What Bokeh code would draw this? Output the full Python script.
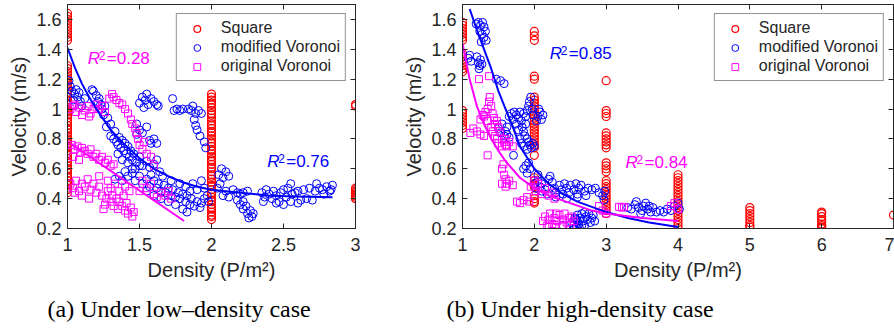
from bokeh.plotting import figure
from bokeh.models import Range1d, FixedTicker, LinearAxis, Label, Title
from bokeh.layouts import row
from bokeh.embed import file_html
from bokeh.resources import INLINE

# ---------------- data: panel (a) low density ----------------
sq_a_cols = {
    1: [0.44, 0.46, 0.47, 0.49, 0.50, 0.52, 0.54, 0.55, 0.57, 0.59, 0.60, 0.62, 0.64, 0.65, 0.67,
        0.69, 0.70, 0.72, 0.74, 0.75, 0.77, 0.79, 0.80, 0.82, 0.84, 0.86, 0.87, 0.89, 0.91, 0.92,
        0.94, 0.96, 0.98, 0.99, 1.01, 1.03, 1.04, 1.06, 1.08, 1.10, 1.11, 1.13, 1.15, 1.17, 1.19,
        1.21, 1.23, 1.25, 1.27, 1.29, 1.46, 1.48, 1.50, 1.52, 1.54, 1.56, 1.58, 1.60, 1.62, 1.64],
    2: [0.26, 0.28, 0.29, 0.31, 0.33, 0.34, 0.36, 0.38, 0.39, 0.41, 0.43, 0.44, 0.46, 0.48, 0.49,
        0.51, 0.53, 0.55, 0.56, 0.58, 0.60, 0.61, 0.63, 0.65, 0.66, 0.68, 0.70, 0.72, 0.73, 0.75,
        0.77, 0.78, 0.80, 0.82, 0.84, 0.85, 0.87, 0.89, 0.90, 0.92, 0.94, 0.96, 0.97, 0.99, 1.01,
        1.03, 1.04, 1.06, 1.08, 1.10],
    3: [1.02, 1.03, 0.40, 0.41, 0.42, 0.43, 0.44, 0.45, 0.46, 0.47],
}

mv_a_x = [1.01, 1.02, 1.03, 1.05, 1.06, 1.07, 1.08, 1.09, 1.04, 1.10, 1.12,
          1.17, 1.18, 1.20, 1.21, 1.22, 1.23, 1.24, 1.26, 1.25, 1.28, 1.30, 1.27, 1.33, 1.30,
          1.32, 1.34, 1.35, 1.36, 1.37, 1.38, 1.39, 1.40, 1.41, 1.42, 1.43, 1.44, 1.45, 1.46,
          1.48, 1.50, 1.52, 1.47, 1.35, 1.38, 1.55, 1.57, 1.60, 1.62, 1.64, 1.42,
          1.50, 1.52, 1.54, 1.55, 1.56, 1.58, 1.60, 1.62, 1.63, 1.53,
          1.48, 1.50, 1.52, 1.55, 1.58, 1.57, 1.48, 1.60, 1.62,
          1.73, 1.74, 1.76, 1.78, 1.80, 1.84, 1.86, 1.87, 1.89, 1.91, 1.88, 1.89, 1.90, 1.92,
          1.95, 1.96, 1.93,
          1.40, 1.42, 1.45, 1.47, 1.50, 1.52, 1.55, 1.57, 1.60, 1.62, 1.63, 1.65, 1.67, 1.68,
          1.70, 1.72, 1.73, 1.75, 1.77, 1.78, 1.80, 1.82, 1.83, 1.85, 1.86, 1.88, 1.90, 1.92,
          1.93, 1.95, 1.97, 1.98, 1.85, 1.90, 1.95, 1.87, 1.93, 1.45, 1.50, 1.58, 1.66, 1.72,
          1.78, 1.82, 1.60, 1.65, 1.70, 1.75, 1.80, 1.83, 1.55, 1.36, 1.33, 1.38,
          2.05, 2.07, 2.08, 2.10, 2.12, 2.06, 2.04, 2.10, 2.15, 2.18, 2.20, 2.22, 2.25, 2.08,
          2.12, 2.18, 2.20, 2.22, 2.24, 2.25, 2.27, 2.28, 2.29, 2.26, 2.22,
          2.35, 2.37, 2.38, 2.40, 2.42, 2.43, 2.45, 2.47, 2.48, 2.50, 2.52, 2.53, 2.55, 2.56,
          2.58, 2.60, 2.62, 2.64, 2.66, 2.68, 2.70, 2.72, 2.73, 2.75, 2.77, 2.78, 2.80, 2.82,
          2.84, 2.83, 2.45, 2.50, 2.55, 2.36, 2.60]
mv_a_y = [1.19, 1.15, 1.12, 1.10, 1.13, 1.08, 1.11, 1.05, 1.06, 1.02, 1.07,
          1.13, 1.12, 1.09, 1.05, 1.07, 1.03, 1.00, 1.02, 0.96, 0.94, 0.90, 0.88, 0.85, 0.82,
          0.80, 0.78, 0.76, 0.81, 0.74, 0.79, 0.72, 0.77, 0.70, 0.75, 0.68, 0.72, 0.66, 0.70,
          0.64, 0.68, 0.62, 0.60, 0.70, 0.66, 0.65, 0.61, 0.63, 0.66, 0.58, 0.64,
          1.04, 1.08, 1.06, 1.10, 1.03, 1.07, 1.05, 1.03, 1.02, 1.01,
          0.90, 0.86, 0.84, 0.88, 0.77, 0.79, 0.83, 0.80, 0.77,
          1.07, 0.99, 1.00, 0.99, 1.00, 1.00, 0.99, 1.02, 0.97, 0.99, 0.93, 0.89, 0.86, 0.82,
          0.78, 0.74, 0.97,
          0.58, 0.55, 0.57, 0.52, 0.55, 0.50, 0.53, 0.48, 0.52, 0.47, 0.50, 0.45, 0.49, 0.44,
          0.47, 0.42, 0.46, 0.41, 0.44, 0.40, 0.43, 0.38, 0.42, 0.36, 0.40, 0.35, 0.38, 0.34,
          0.37, 0.40, 0.42, 0.38, 0.45, 0.46, 0.47, 0.50, 0.52, 0.60, 0.62, 0.56, 0.55, 0.52,
          0.50, 0.48, 0.42, 0.40, 0.38, 0.36, 0.33, 0.31, 0.45, 0.55, 0.53, 0.52,
          0.56, 0.60, 0.54, 0.58, 0.55, 0.50, 0.47, 0.45, 0.46, 0.44, 0.43, 0.44, 0.45, 0.42,
          0.41, 0.39, 0.36, 0.33, 0.35, 0.30, 0.32, 0.28, 0.30, 0.27, 0.38,
          0.44, 0.41, 0.46, 0.43, 0.40, 0.45, 0.42, 0.38, 0.44, 0.46, 0.41, 0.47, 0.50, 0.43,
          0.44, 0.45, 0.39, 0.46, 0.40, 0.47, 0.39, 0.45, 0.50, 0.47, 0.46, 0.43, 0.48, 0.45,
          0.49, 0.46, 0.37, 0.36, 0.38, 0.38, 0.37]

ov_a_x = [1.02, 1.04, 1.06, 1.08, 1.10, 1.12, 1.14, 1.16, 1.18, 1.20, 1.22, 1.24, 1.26, 1.05, 1.15,
          1.29, 1.31, 1.32, 1.34, 1.36, 1.38, 1.40, 1.42, 1.44, 1.45, 1.47, 1.48, 1.49, 1.50,
          1.52, 1.53, 1.55, 1.58, 1.60,
          1.03, 1.05, 1.07, 1.09, 1.10, 1.12, 1.14, 1.16, 1.18, 1.20, 1.22, 1.24, 1.26, 1.28,
          1.30, 1.32, 1.04, 1.08,
          1.02, 1.04, 1.06, 1.08, 1.10, 1.12, 1.14, 1.16, 1.18, 1.20, 1.22, 1.24, 1.25, 1.26,
          1.27, 1.28, 1.30, 1.31, 1.32, 1.34, 1.35, 1.36, 1.38, 1.39, 1.40, 1.41, 1.42, 1.44,
          1.45, 1.46, 1.30, 1.33, 1.36, 1.40, 1.43, 1.15, 1.10, 1.05, 1.28, 1.22,
          1.60, 1.62, 1.65, 1.68, 1.70, 1.58, 1.55, 1.72, 1.50, 1.52]
ov_a_y = [1.00, 1.02, 0.98, 1.01, 0.96, 0.99, 1.02, 0.97, 1.00, 1.03, 1.00, 1.02, 0.98, 1.03, 0.95,
          1.07, 1.10, 1.08, 1.06, 1.04, 1.03, 1.00, 0.97, 0.93, 0.90, 0.87, 0.84, 0.80, 0.76,
          0.73, 0.78, 0.70, 0.68, 0.62,
          0.76, 0.73, 0.75, 0.71, 0.74, 0.72, 0.70, 0.73, 0.68, 0.70, 0.66, 0.68, 0.64, 0.66,
          0.62, 0.63, 0.68, 0.66,
          0.50, 0.47, 0.52, 0.45, 0.50, 0.48, 0.53, 0.46, 0.50, 0.44, 0.48, 0.42, 0.33, 0.36,
          0.40, 0.45, 0.38, 0.42, 0.35, 0.40, 0.33, 0.38, 0.35, 0.42, 0.32, 0.37, 0.30, 0.34,
          0.28, 0.31, 0.47, 0.50, 0.45, 0.48, 0.45, 0.40, 0.42, 0.44, 0.52, 0.55,
          0.43, 0.41, 0.44, 0.42, 0.45, 0.50, 0.47, 0.40, 0.45, 0.52]

fit_mv_a_x = [1.0, 1.05, 1.1, 1.15, 1.2, 1.25, 1.3, 1.4, 1.5, 1.6, 1.7, 1.8, 1.9, 2.0, 2.2, 2.4, 2.6, 2.84]
fit_mv_a_y = [1.41, 1.28, 1.17, 1.08, 1.00, 0.93, 0.86, 0.76, 0.67, 0.60, 0.55, 0.51, 0.48, 0.46, 0.44, 0.42, 0.415, 0.41]
fit_ov_a_x = [1.02, 1.81]
fit_ov_a_y = [0.77, 0.25]

# ---------------- data: panel (b) high density ----------------
sq_b_cols = {
    1: [1.46, 1.48, 1.50, 1.52, 1.54, 1.56, 1.58, 1.25, 1.27, 1.29, 1.31, 1.33, 1.35, 1.37,
        0.87, 0.89, 0.91, 0.93, 0.95, 0.97, 0.99],
    2: [1.52, 1.49, 1.46, 1.22, 1.20, 0.74, 0.76, 0.78, 0.80, 0.82, 0.84, 0.86, 0.88, 0.90,
        0.92, 0.94, 0.96, 0.98, 1.00, 1.02, 1.04, 1.06, 1.08, 0.69, 0.54, 0.52, 0.50, 0.49,
        0.48, 0.42, 0.40, 0.38, 0.37],
    3: [1.19, 0.99, 0.97, 0.95, 0.84, 0.82, 0.80, 0.78, 0.76, 0.74, 0.64, 0.62, 0.60, 0.58,
        0.30, 0.32, 0.34, 0.36, 0.38, 0.40, 0.42, 0.44, 0.46, 0.48, 0.50, 0.52],
    4: [0.20, 0.22, 0.24, 0.26, 0.28, 0.30, 0.32, 0.34, 0.36, 0.38, 0.40, 0.42, 0.44, 0.46,
        0.48, 0.50, 0.52, 0.54, 0.56],
    5: [0.34, 0.32, 0.30, 0.28, 0.26, 0.24, 0.22, 0.21],
    6: [0.31, 0.30, 0.28, 0.26, 0.25, 0.23, 0.22, 0.21, 0.20],
    7: [0.29],
}

mv_b_x = [1.19, 1.22, 1.25, 1.28, 1.30, 1.24, 1.27, 1.30, 1.33, 1.26, 1.32,
          1.08, 1.10, 1.12, 1.20, 1.22, 1.24, 1.25, 1.27, 1.23,
          1.47, 1.53, 1.58,
          1.65, 1.68, 1.70, 1.72, 1.75, 1.78, 1.80, 1.82, 1.85, 1.88, 1.90, 1.92, 1.93, 1.95,
          1.97, 1.98, 1.83, 1.85, 1.87, 1.88, 1.90, 1.92, 1.94, 1.96, 1.98, 2.00, 1.78, 1.80,
          1.82, 1.60, 1.62, 2.05, 2.08, 2.10, 2.12, 2.06, 2.03, 1.86, 1.90, 1.75,
          1.50, 1.53, 1.55, 1.58, 1.62, 1.65, 1.71,
          1.85, 1.88, 1.90, 1.92, 1.94,
          2.00, 2.02, 2.05, 2.08, 2.10, 2.15, 2.20, 2.22, 2.25, 2.28, 2.30, 2.35, 2.38, 2.40,
          2.42, 2.45, 2.48, 2.50, 2.55, 2.58, 2.60, 2.62, 2.65, 2.70, 2.72, 2.75, 2.80, 2.85,
          2.90, 2.30, 2.45, 2.60, 2.18, 2.10, 2.05,
          2.52, 2.55, 2.56, 2.58, 2.60, 2.60, 2.62, 2.64, 2.66, 2.68, 2.70, 2.72, 2.74, 2.76,
          2.78, 2.80, 2.82, 2.84, 2.54, 2.58, 2.63, 2.66, 2.70, 2.40,
          2.95, 2.98, 2.97,
          3.30, 3.35, 3.40, 3.42, 3.45, 3.50, 3.52, 3.55, 3.58, 3.60, 3.62, 3.65, 3.70, 3.75,
          3.80, 3.85, 3.90, 3.95, 4.00, 4.02, 3.48]
mv_b_y = [1.57, 1.58, 1.56, 1.58, 1.55, 1.52, 1.50, 1.48, 1.46, 1.45, 1.52,
          1.34, 1.36, 1.32, 1.35, 1.31, 1.29, 1.33, 1.30, 1.27,
          1.20, 1.19, 1.17,
          0.95, 0.97, 0.93, 0.98, 0.96, 0.94, 0.98, 0.92, 0.97, 0.95, 0.99, 1.02, 1.05, 1.08,
          1.00, 0.96, 0.88, 0.85, 0.82, 0.90, 0.80, 0.78, 0.76, 0.74, 0.77, 0.75, 0.86, 0.80,
          0.77, 0.85, 0.88, 0.95, 0.98, 0.93, 0.96, 1.00, 0.92, 0.75, 0.73, 0.90,
          0.87, 0.84, 0.90, 0.82, 0.83, 0.81, 0.69,
          0.60, 0.62, 0.57, 0.64, 0.60,
          0.50, 0.47, 0.52, 0.48, 0.50, 0.46, 0.53, 0.55, 0.51, 0.47, 0.44, 0.49, 0.46, 0.43,
          0.50, 0.47, 0.44, 0.49, 0.46, 0.50, 0.43, 0.47, 0.49, 0.45, 0.42, 0.47, 0.46, 0.47,
          0.44, 0.41, 0.40, 0.41, 0.43, 0.45, 0.56,
          0.24, 0.22, 0.27, 0.21, 0.25, 0.29, 0.23, 0.27, 0.30, 0.25, 0.22, 0.28, 0.26, 0.30,
          0.24, 0.27, 0.29, 0.25, 0.20, 0.26, 0.20, 0.22, 0.31, 0.22,
          0.42, 0.45, 0.39,
          0.34, 0.33, 0.36, 0.38, 0.34, 0.32, 0.35, 0.37, 0.33, 0.35, 0.31, 0.34, 0.31, 0.32,
          0.31, 0.33, 0.32, 0.35, 0.37, 0.33, 0.30]

ov_b_x = [1.23, 1.37,
          1.11, 1.15, 1.20, 1.25, 1.30,
          1.30, 1.32, 1.35, 1.37, 1.38, 1.40, 1.42, 1.44, 1.45, 1.48, 1.50, 1.52, 1.55, 1.58,
          1.60, 1.62, 1.65, 1.40, 1.42, 1.45, 1.48, 1.50, 1.35, 1.28, 1.25, 1.55, 1.60, 1.70,
          1.35,
          1.55, 1.57, 1.58, 1.60, 1.62, 1.65, 1.55, 1.70, 1.60,
          1.76, 1.80, 1.85, 1.90, 1.93,
          1.95, 2.00, 2.02, 2.05, 2.10, 2.15, 2.20, 2.25, 2.28,
          2.12, 2.15, 2.18, 2.20, 2.22, 2.25, 2.28, 2.30, 2.32, 2.35, 2.38, 2.40, 2.42, 2.45,
          2.48, 2.50, 2.52, 2.55, 2.20, 2.30,
          2.90, 2.95, 3.00, 3.18, 3.22, 3.25, 3.90, 3.95, 4.00]
ov_b_y = [1.20, 1.22,
          0.84, 0.87, 0.85, 0.83, 0.82,
          0.95, 0.98, 1.00, 1.05, 1.08, 1.02, 0.97, 0.94, 0.90, 0.92, 0.88, 0.85, 0.80, 0.78,
          0.76, 0.75, 0.78, 0.88, 0.85, 0.82, 0.80, 0.77, 0.92, 0.96, 0.93, 0.75, 0.80, 0.75,
          0.69,
          0.60, 0.63, 0.56, 0.53, 0.50, 0.52, 0.50, 0.49, 0.48,
          0.38, 0.37, 0.39, 0.41, 0.38,
          0.48, 0.52, 0.45, 0.50, 0.43, 0.47, 0.42, 0.44, 0.40,
          0.25, 0.28, 0.22, 0.26, 0.30, 0.23, 0.27, 0.21, 0.25, 0.29, 0.22, 0.26, 0.30, 0.24,
          0.27, 0.22, 0.28, 0.25, 0.21, 0.30,
          0.35, 0.32, 0.30, 0.345, 0.34, 0.345, 0.35, 0.37, 0.33]

fit_mv_b_x = [1.1, 1.2, 1.3, 1.4, 1.5, 1.6, 1.7, 1.8, 2.0, 2.2, 2.4, 2.6, 2.8, 3.0, 3.3, 3.6, 4.0]
fit_mv_b_y = [1.67, 1.53, 1.40, 1.27, 1.12, 1.00, 0.88, 0.75, 0.60, 0.50, 0.43, 0.38, 0.345, 0.31, 0.27, 0.24, 0.21]
fit_ov_b_x = [1.0, 1.1, 1.2, 1.3, 1.4, 1.5, 1.6, 1.8, 2.0, 2.2, 2.5, 2.8, 3.0, 3.5, 4.0]
fit_ov_b_y = [1.44, 1.20, 1.02, 0.90, 0.80, 0.72, 0.65, 0.54, 0.47, 0.42, 0.37, 0.32, 0.30, 0.27, 0.25]

# R^2 annotations: (value text, x, y, colour key)
rsq_a = [("=0.28", 1.141, 1.273, "ov"), ("=0.76", 2.387, 0.585, "mv")]
rsq_b = [("=0.85", 2.215, 1.311, "mv"), ("=0.84", 3.27, 0.579, "ov")]

x_ticks_a = [1, 1.5, 2, 2.5, 3]
x_labels_a = ["1", "1.5", "2", "2.5", "3"]
x_ticks_b = [1, 2, 3, 4, 5, 6, 7]
x_labels_b = ["1", "2", "3", "4", "5", "6", "7"]
y_ticks = [0.2, 0.4, 0.6, 0.8, 1.0, 1.2, 1.4, 1.6]
y_labels = ["0.2", "0.4", "0.6", "0.8", "1", "1.2", "1.4", "1.6"]

series_names = ["Square", "modified Voronoi", "original Voronoi"]
captions = ["(a) Under low\u2013density case", "(b) Under high-density case"]

# ---------------- styling ----------------
RED, BLUE, MAG = "#FF0000", "#0000FF", "#FF00FF"
COL = {"mv": BLUE, "ov": MAG}
AX = "#262626"
FONT = "Liberation Sans"


def make_panel(xr, xt, xl, sq_cols, mvx, mvy, ovx, ovy, fmx, fmy, fox, foy, rsq, caption,
               width, bl, br, cap_offset):
    p = figure(width=width, height=332, output_backend="svg", toolbar_location=None,
               x_range=Range1d(*xr), y_range=Range1d(0.2, 1.7),
               min_border_left=bl, min_border_right=br, min_border_top=4, min_border_bottom=104,
               background_fill_color="white", border_fill_color="white")
    p.outline_line_color = AX
    p.outline_line_width = 1
    p.xgrid.visible = False
    p.ygrid.visible = False

    sx, sy = [], []
    for k, vals in sq_cols.items():
        for v in vals:
            sx.append(k)
            sy.append(v)
    p.scatter(sx, sy, marker="circle", size=8, fill_color=None, line_color=RED, line_width=1.2,
              legend_label=series_names[0])
    p.scatter(mvx, mvy, marker="circle", size=8, fill_color=None, line_color=BLUE, line_width=1,
              legend_label=series_names[1])
    p.scatter(ovx, ovy, marker="square", size=7, fill_color=None, line_color=MAG, line_width=1,
              legend_label=series_names[2])
    p.line(fmx, fmy, line_color=BLUE, line_width=2)
    p.line(fox, foy, line_color=MAG, line_width=2)

    xover = {t: l for t, l in zip(xt, xl)}
    yover = {t: l for t, l in zip(y_ticks, y_labels)}

    def style(ax):
        ax.axis_line_color = AX
        ax.major_tick_line_color = AX
        ax.major_tick_in = 5
        ax.major_tick_out = 0
        ax.minor_tick_line_color = None
        ax.major_label_text_font = FONT
        ax.major_label_text_font_size = "18px"
        ax.major_label_text_color = AX
        ax.axis_label_text_font = FONT
        ax.axis_label_text_font_size = "20px"
        ax.axis_label_text_font_style = "normal"
        ax.axis_label_text_color = AX

    xa = p.xaxis[0]
    xa.ticker = FixedTicker(ticks=xt)
    xa.major_label_overrides = xover
    xa.axis_label = "Density (P/m\u00b2)"
    style(xa)
    xa.major_label_standoff = 9
    xa.axis_label_standoff = 5

    ya = p.yaxis[0]
    ya.ticker = FixedTicker(ticks=y_ticks)
    ya.major_label_overrides = yover
    ya.axis_label = "Velocity (m/s)"
    style(ya)
    ya.major_label_standoff = 6
    ya.axis_label_standoff = 3

    # box ticks on the top and right sides (label-free: drawn as minor ticks only)
    for side, ticks in (("above", xt), ("right", y_ticks)):
        ax = LinearAxis(ticker=FixedTicker(ticks=[], minor_ticks=ticks))
        ax.axis_line_color = AX
        ax.major_tick_line_color = None
        ax.minor_tick_line_color = AX
        ax.minor_tick_in = 5
        ax.minor_tick_out = 0
        ax.major_label_standoff = 0
        p.add_layout(ax, side)

    for txt, x, y, key in rsq:
        c = COL[key]
        p.add_layout(Label(x=x, y=y, text="R", text_font=FONT, text_font_size="17px",
                           text_font_style="italic", text_color=c))
        p.add_layout(Label(x=x, y=y, x_offset=11, y_offset=8, text="2", text_font=FONT,
                           text_font_size="12px", text_color=c))
        p.add_layout(Label(x=x, y=y, x_offset=19, text=txt, text_font=FONT,
                           text_font_size="17px", text_color=c))

    lg = p.legend[0]
    lg.location = "top_right"
    lg.margin = 9
    lg.padding = 5
    lg.spacing = 1
    lg.glyph_width = 30
    lg.glyph_height = 17
    lg.label_height = 17
    lg.label_standoff = 9
    lg.label_text_font = FONT
    lg.label_text_font_size = "16px"
    lg.label_text_color = AX
    lg.border_line_color = AX
    lg.border_line_width = 1
    lg.background_fill_alpha = 1

    p.add_layout(Title(text=caption, text_font="Liberation Serif", text_font_size="24px",
                       text_font_style="normal", text_color="black", align="left",
                       offset=cap_offset, standoff=21), "below")
    return p


pa = make_panel((1, 3), x_ticks_a, x_labels_a, sq_a_cols, mv_a_x, mv_a_y, ov_a_x, ov_a_y,
                fit_mv_a_x, fit_mv_a_y, fit_ov_a_x, fit_ov_a_y, rsq_a, captions[0],
                width=400, bl=67, br=45, cap_offset=-20)
pb = make_panel((1, 7), x_ticks_b, x_labels_b, sq_b_cols, mv_b_x, mv_b_y, ov_b_x, ov_b_y,
                fit_mv_b_x, fit_mv_b_y, fit_ov_b_x, fit_ov_b_y, rsq_b, captions[1],
                width=494, bl=57, br=1, cap_offset=-16)

layout = row(pa, pb)
open("out.html", "w").write(file_html(layout, INLINE))
